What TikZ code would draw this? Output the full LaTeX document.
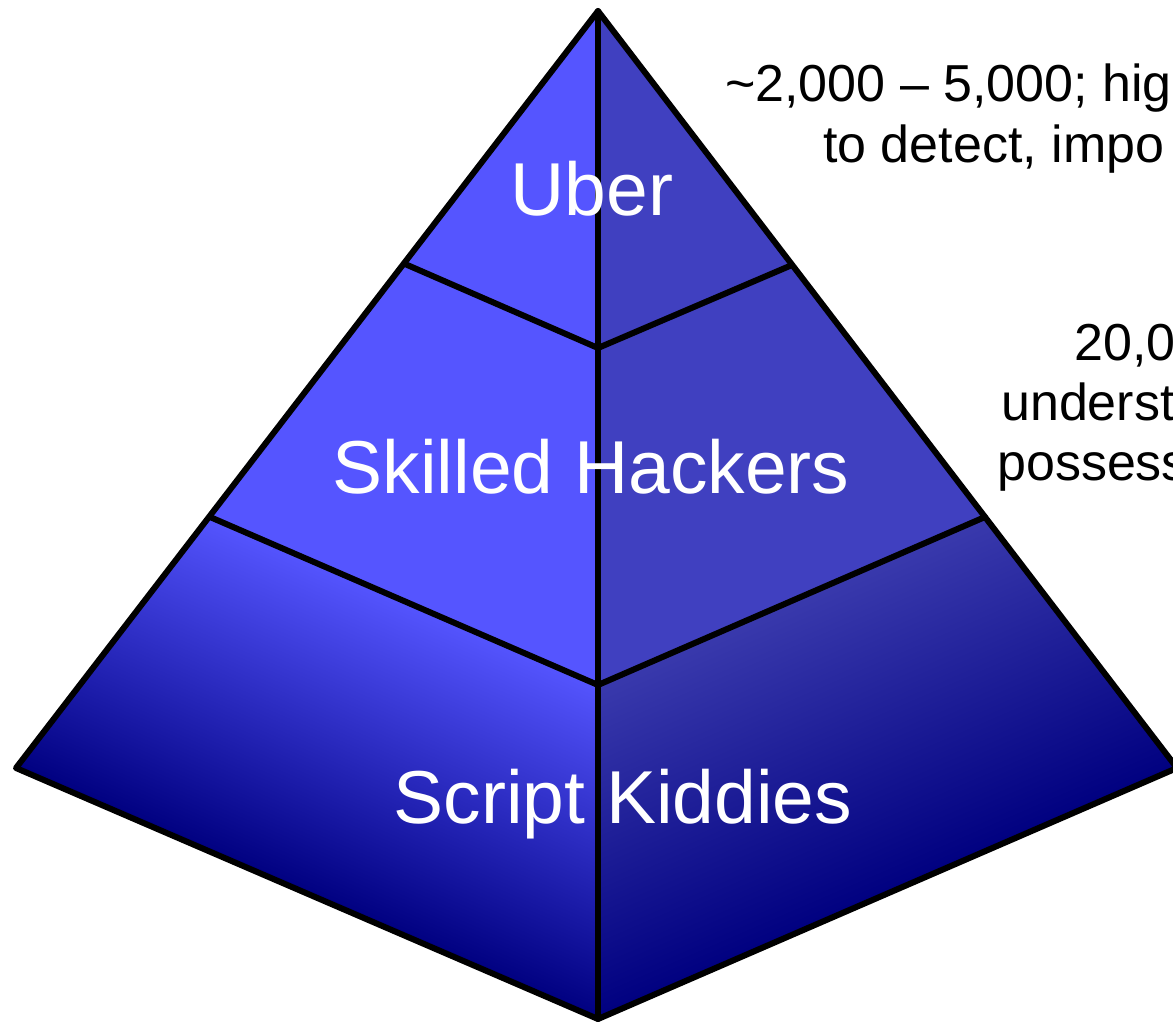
\documentclass[tikz,border=0pt]{standalone}
\usepackage{fontspec}
\setmainfont{Liberation Sans}
\usepackage{tikz}

\definecolor{faceL}{RGB}{85,85,255}
\definecolor{faceR}{RGB}{64,64,192}
\definecolor{deepblue}{RGB}{0,0,128}

\begin{document}
\begin{tikzpicture}[x=1pt, y=-1pt]
    \tikzstyle{tier} = [text=white, inner sep=0pt, anchor=base, font=\fontsize{75}{90}\selectfont]
    \tikzstyle{note} = [text=black, inner sep=0pt, anchor=base west, font=\fontsize{52}{62}\selectfont]
    \tikzstyle{edge} = [black, line width=6pt, line join=round, line cap=round]

    % Page frame, the right corner runs off the page
    \clip (0,0) rectangle (1173,1022);

    % Corners of the pyramid
    \coordinate (apex) at (598,11);
    \coordinate (lt1) at (405,264);
    \coordinate (c1) at (598,348);
    \coordinate (rt1) at (792,265);
    \coordinate (lt2) at (210,517);
    \coordinate (c2) at (598,685);
    \coordinate (rt2) at (985,517);
    \coordinate (lb) at (16,768);
    \coordinate (bot) at (598,1019);
    \coordinate (rb) at (1177,768);

    % Upper two tiers, flat faces
    \fill[faceL] (apex) -- (lt2) -- (c2) -- cycle;
    \fill[faceR] (apex) -- (rt2) -- (c2) -- cycle;

    % Lowest tier, shaded parallel to its edges
    \begin{scope}
        \clip (lt2) -- (c2) -- (bot) -- (lb) -- cycle;
        \shade[top color=faceL, bottom color=deepblue,
               transform canvas={rotate around={-23.4:(c2)}}]
            (0,683) rectangle (800,993);
    \end{scope}
    \begin{scope}
        \clip (c2) -- (rt2) -- (rb) -- (bot) -- cycle;
        \shade[top color=faceR!90!black, bottom color=deepblue,
               transform canvas={rotate around={23.4:(c2)}}]
            (400,683) rectangle (1300,993);
    \end{scope}

    % Outline and ridges
    \draw[edge] (apex) -- (lb) -- (bot) -- (rb) -- cycle;
    \draw[edge] (apex) -- (bot);
    \foreach \k in {1,2} {
        \draw[edge] (lt\k) -- (c\k) -- (rt\k);
    }

    % Tier names
    \node[tier] (uber) at (592,215) {Uber};
    \node[tier] (skilled) at (591,493) {Skilled Hackers};
    \node[tier] (kiddies) at (623,823) {Script Kiddies};

    % Notes on the right
    \node[note] (num1) at (725,102) {\textasciitilde 2,000 – 5,000; hig};
    \node[note] (num1b) at (823,163) {to detect, impo};
    \node[note] (num2) at (1074,360) {20,0};
    \node[note] (num2b) at (1001,420) {underst};
    \node[note] (num2c) at (997,480) {possess};
\end{tikzpicture}
\end{document}
